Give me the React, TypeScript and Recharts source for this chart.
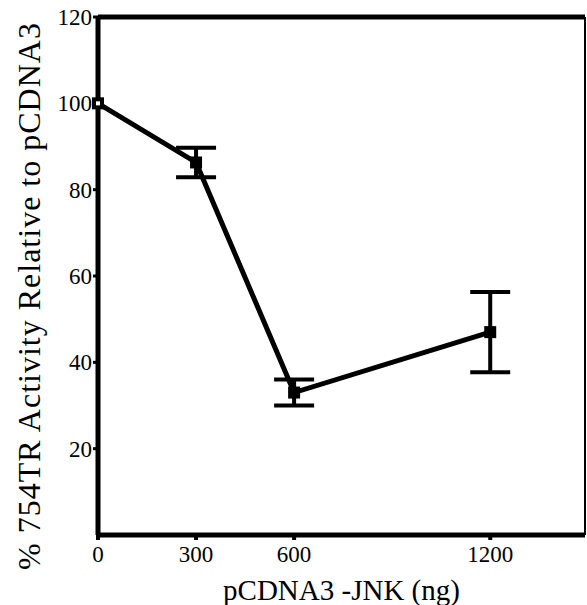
import { LineChart, Line, XAxis, YAxis, ErrorBar, ReferenceLine, Label } from 'recharts';

const doses = [0, 300, 600, 1200];
const activity = [100, 86.3, 33, 47];
const sem = [0, 3.4, 3, 9.3];
const xTicks = [0, 300, 600, 1200];
const yTicks = [20, 40, 60, 80, 100, 120];

const data = doses.map((dose, i) => ({ dose, value: activity[i], err: sem[i] }));

const font = '"Liberation Serif", "Times New Roman", serif';

function SquareDot(props: any) {
  const { cx, cy, index } = props;
  if (cx == null || cy == null) return null;
  return (
    <g key={`dot-${index}`}>
      <rect x={cx - 6} y={cy - 6} width={12} height={12} fill="#000" />
      {index === 0 && <rect x={cx - 2} y={cy - 2} width={4} height={4} fill="#fff" />}
    </g>
  );
}

function YTitle() {
  const cx = 29;
  const cy = 296;
  return (
    <text
      x={cx}
      y={cy}
      transform={`rotate(-90, ${cx}, ${cy})`}
      textAnchor="middle"
      dominantBaseline="central"
      style={{ fontSize: 32, fill: '#000', fontFamily: font, letterSpacing: 1 }}
    >
      % 754TR Activity Relative to pCDNA3
    </text>
  );
}

export default function App() {
  return (
    <div style={{ position: 'absolute', left: 0, top: 0, background: '#fff' }}>
      <LineChart
        width={587}
        height={605}
        data={data}
        margin={{ top: 17, right: 2, bottom: 0, left: 0 }}
      >
        <XAxis
          type="number"
          dataKey="dose"
          domain={[0, 1490]}
          ticks={xTicks}
          height={70}
          tickSize={5}
          tickMargin={6}
          axisLine={{ stroke: '#000', strokeWidth: 5 }}
          tickLine={{ stroke: '#000', strokeWidth: 4 }}
          tick={{ fontSize: 23, fill: '#000', fontFamily: font }}
        >
          <Label
            value="pCDNA3 -JNK (ng)"
            position="insideBottom"
            offset={5}
            style={{ fontSize: 29, fill: '#000', fontFamily: font }}
          />
        </XAxis>
        <YAxis
          type="number"
          domain={[0, 120]}
          ticks={yTicks}
          width={98}
          tickSize={5}
          tickMargin={1}
          axisLine={{ stroke: '#000', strokeWidth: 5 }}
          tickLine={{ stroke: '#000', strokeWidth: 3 }}
          tick={{ fontSize: 23, fill: '#000', fontFamily: font }}
        >
          <Label content={<YTitle />} />
        </YAxis>
        <ReferenceLine y={120} stroke="#000" strokeWidth={5} />
        <ReferenceLine x={1490} stroke="#000" strokeWidth={2} />
        <Line
          type="linear"
          dataKey="value"
          stroke="#000"
          strokeWidth={5}
          dot={<SquareDot />}
          activeDot={false}
          isAnimationActive={false}
        >
          <ErrorBar dataKey="err" width={20} strokeWidth={4} stroke="#000" direction="y" />
        </Line>
      </LineChart>
    </div>
  );
}
